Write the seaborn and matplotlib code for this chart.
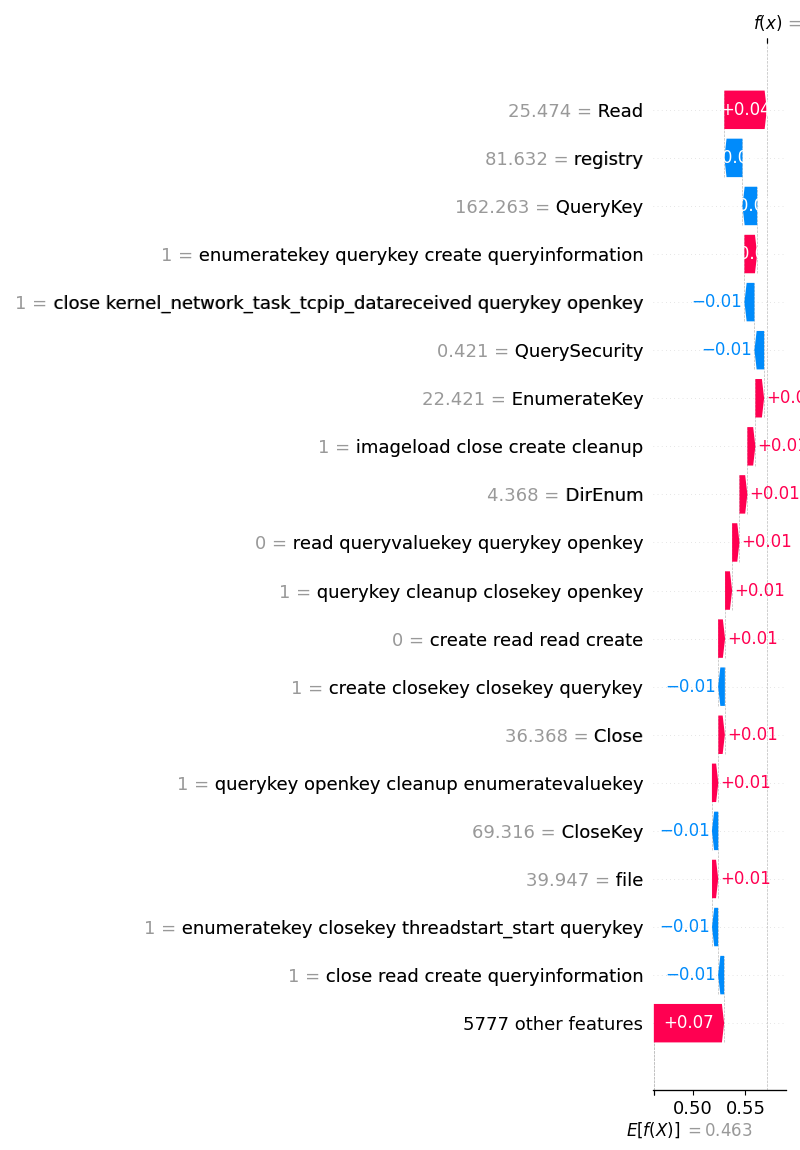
"""
SHAP-style waterfall chart for one prediction, drawn with seaborn styling
and matplotlib arrows.
"""

import re

import numpy as np
import matplotlib
matplotlib.use("Agg")
import matplotlib.pyplot as plt
import matplotlib.transforms as mtransforms
import seaborn as sns

RED = "#ff0051"
BLUE = "#008bfb"
GRAY = "#999999"

# features from the top row down
feature_names = [
    "Read",
    "registry",
    "QueryKey",
    "enumeratekey querykey create queryinformation",
    "close kernel_network_task_tcpip_datareceived querykey openkey",
    "QuerySecurity",
    "EnumerateKey",
    "imageload close create cleanup",
    "DirEnum",
    "read queryvaluekey querykey openkey",
    "querykey cleanup closekey openkey",
    "create read read create",
    "create closekey closekey querykey",
    "Close",
    "querykey openkey cleanup enumeratevaluekey",
    "CloseKey",
    "file",
    "enumeratekey closekey threadstart_start querykey",
    "close read create queryinformation",
]
feature_values = [25.474, 81.632, 162.263, 1, 1, 0.421, 22.421, 1, 4.368, 0,
                  1, 0, 1, 36.368, 1, 69.316, 39.947, 1, 1]
shap_values = [0.0404, -0.0172, -0.0140, 0.0121, -0.0095, -0.0092, 0.0083,
               0.0076, 0.0075, 0.0070, 0.0067, 0.0066, -0.0064, 0.0062,
               0.0061, -0.0060, 0.0059, -0.0058, -0.0057]
n_other = 5777
other_value = 0.0668
base_value = 0.463

x_ticks = [0.50, 0.55]
x_range = (0.4622, 0.5886)


def format_value(v, fmt):
    """Format like shap does: strip trailing zeros, use a real minus sign."""
    s = fmt % v
    s = re.sub(r"\.?0+$", "", s)
    if s[0] == "-":
        s = "\u2212" + s[1:]
    return s


sns.set_style("white", rc={
    "axes.edgecolor": "black",
    "text.color": "black",
    "xtick.color": "black",
    "ytick.color": "black",
    "xtick.bottom": True,
})
plt.rcParams["font.family"] = ["DejaVu Sans"]

fig = plt.figure(figsize=(8, 11.5), dpi=100)
ax = fig.add_axes([653 / 800, 60 / 1150, 133 / 800, 1047 / 1150])

values = shap_values + [other_value]
num = len(values)
rows = np.arange(num)[::-1]          # top feature gets the highest row
fx = base_value + sum(values)

head_len = 0.0021      # arrow head length, data units
text_gap = 0.0019      # gap between bar end and outside label
inside_min = 0.011     # bars at least this wide carry their label inside

# rows are drawn from the top; loc walks back from f(x) to E[f(X)]
loc = fx
for i, v in enumerate(values):
    y = rows[i]
    loc -= v
    color = RED if v >= 0 else BLUE
    dist = abs(v)
    sign = 1 if v >= 0 else -1
    ax.arrow(loc, y, sign * max(dist - head_len, 1e-6), 0,
             head_length=min(dist, head_len), width=0.8, head_width=0.8,
             color=color, length_includes_head=False, lw=0)
    label = format_value(v, "%+0.02f")
    if dist >= inside_min:
        ax.text(loc + v / 2, y, label, ha="center", va="center",
                color="white", fontsize=12)
    elif v >= 0:
        ax.text(loc + v + text_gap, y, label, ha="left", va="center",
                color=RED, fontsize=12)
    else:
        ax.text(loc + v - text_gap, y, label, ha="right", va="center",
                color=BLUE, fontsize=12)
    # dashed connector to the bar below
    ax.plot([loc, loc], [y - 1 - 0.4, y + 0.4], color="#bbbbbb",
            linestyle="--", linewidth=0.5, zorder=-1)

for y in rows:
    ax.axhline(y, color="#cccccc", lw=0.5, dashes=(1, 5), zorder=-1)

ax.axvline(base_value, 0, 1 / num, color="#bbbbbb", linestyle="--",
           linewidth=0.5, zorder=-1)
ax.axvline(fx, 0, 1, color="#bbbbbb", linestyle="--", linewidth=0.5,
           zorder=-1)

ax.set_xlim(*x_range)
ax.set_ylim(-1.39, num - 1 + 1.39)
ax.set_xticks(x_ticks)
ax.tick_params(axis="x", labelsize=13)

# gray "value = name" labels with black names drawn on top of them
other_label = f"{n_other} other features"
full_labels = [f"{format_value(fv, '%0.03f')} = {name}"
               for fv, name in zip(feature_values, feature_names)] + [other_label]
name_labels = [" " + name for name in feature_names] + [""]
ax.set_yticks(list(rows) + list(rows + 1e-8))
ax.set_yticklabels(full_labels + name_labels, fontsize=13)
for i, t in enumerate(ax.get_yticklabels()):
    t.set_color(GRAY if i < num - 1 else "black")
ax.yaxis.set_ticks_position("none")
sns.despine(ax=ax, left=True)

# E[f(X)] tick under the axis
ax2 = ax.twiny()
ax2.set_xlim(*x_range)
ax2.set_xticks([base_value, base_value + 1e-8])
ax2.set_xticklabels(["\n$E[f(X)]$",
                     "\n$ = " + format_value(base_value, "%0.03f") + "$"],
                    fontsize=12, ha="left")
ax2.xaxis.set_ticks_position("bottom")
sns.despine(ax=ax2, left=True)

# f(x) tick above the axis
ax3 = ax2.twiny()
ax3.set_xlim(*x_range)
ax3.set_xticks([fx, fx + 1e-8])
ax3.set_xticklabels(["$f(x)$", "$ = " + format_value(fx, "%0.03f") + "$"],
                    fontsize=12, ha="left")
for spine in ["right", "top", "left"]:
    ax3.spines[spine].set_visible(False)

lab = ax3.xaxis.get_majorticklabels()
lab[0].set_transform(lab[0].get_transform() + mtransforms.ScaledTranslation(
    -10 / 72., 0, fig.dpi_scale_trans))
lab[1].set_transform(lab[1].get_transform() + mtransforms.ScaledTranslation(
    12 / 72., 0, fig.dpi_scale_trans))
lab[1].set_color(GRAY)

lab = ax2.xaxis.get_majorticklabels()
lab[0].set_transform(lab[0].get_transform() + mtransforms.ScaledTranslation(
    -20 / 72., 0, fig.dpi_scale_trans))
lab[1].set_transform(lab[1].get_transform() + mtransforms.ScaledTranslation(
    22 / 72., -1 / 72., fig.dpi_scale_trans))
lab[1].set_color(GRAY)

fig.savefig("out.png", dpi=100)
